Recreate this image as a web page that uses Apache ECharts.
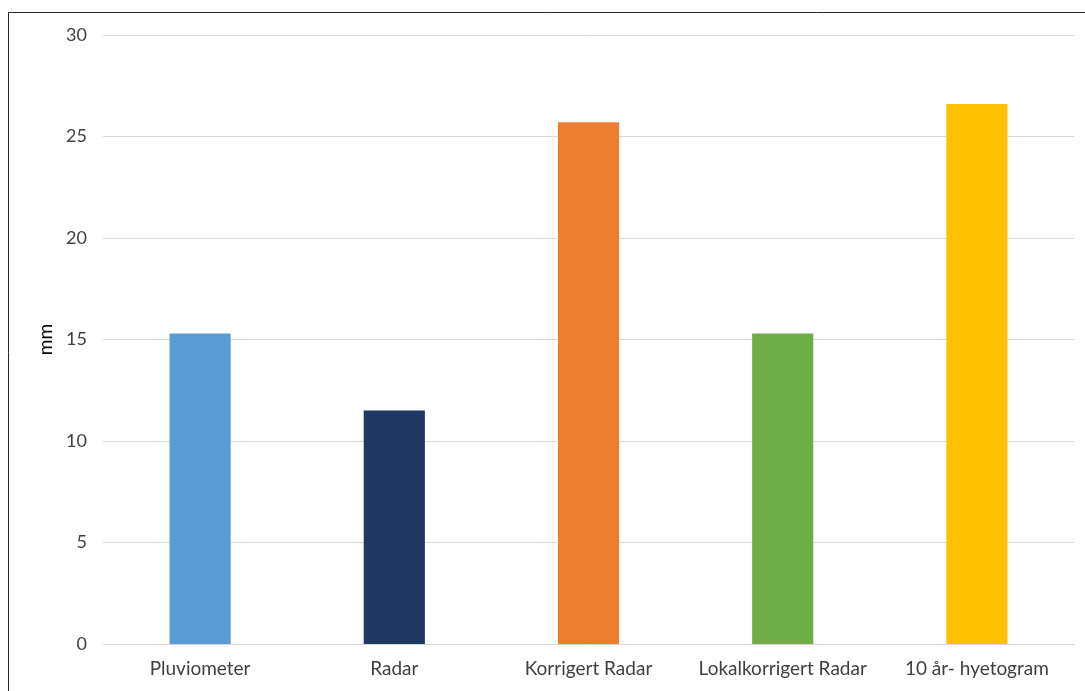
<!DOCTYPE html>
<html>
<head>
<meta charset="utf-8">
<script src="https://cdn.jsdelivr.net/npm/echarts@6/dist/echarts.min.js"></script>
<style>
html,body{margin:0;padding:0;background:#fff;}
#chart{width:1085px;height:691px;}
</style>
</head>
<body>
<div id="chart"></div>
<script>
const categories = ["Pluviometer", "Radar", "Korrigert Radar", "Lokalkorrigert Radar", "10 år- hyetogram"];
const values = [15.3, 11.5, 25.7, 15.3, 26.6];
const colors = ["#5B9BD5", "#203864", "#ED7D31", "#70AD47", "#FFC000"];
const yTicks = [0, 5, 10, 15, 20, 25, 30];

const chart = echarts.init(document.getElementById('chart'), null, {renderer: 'canvas'});
const font = 'Lato, "Open Sans", sans-serif';
chart.setOption({
  animation: false,
  graphic: [{
    type: 'rect',
    shape: {x: 8.5, y: 12.5, width: 1200, height: 1000},
    style: {fill: 'none', stroke: '#262626', lineWidth: 1},
    silent: true
  }],
  grid: {left: 103, right: 11, top: 35, bottom: 47, containLabel: false},
  xAxis: {
    type: 'category',
    data: categories,
    axisLine: {show: true, lineStyle: {color: '#d9d9d9', width: 1}},
    axisTick: {show: false},
    axisLabel: {color: '#404040', fontFamily: font, fontSize: 19, margin: 15, interval: 0, hideOverlap: false}
  },
  yAxis: {
    type: 'value',
    min: yTicks[0],
    max: yTicks[yTicks.length - 1],
    interval: 5,
    name: 'mm',
    nameLocation: 'middle',
    nameGap: 42,
    nameRotate: 90,
    nameTextStyle: {color: '#000', fontFamily: font, fontSize: 19},
    axisLine: {show: false},
    axisTick: {show: false},
    axisLabel: {color: '#404040', fontFamily: font, fontSize: 18, margin: 16},
    splitLine: {lineStyle: {color: '#d9d9d9', width: 1}}
  },
  series: [{
    type: 'bar',
    barWidth: '31.5%',
    data: values.map((v, i) => ({value: v, itemStyle: {color: colors[i]}}))
  }]
});
</script>
</body>
</html>
